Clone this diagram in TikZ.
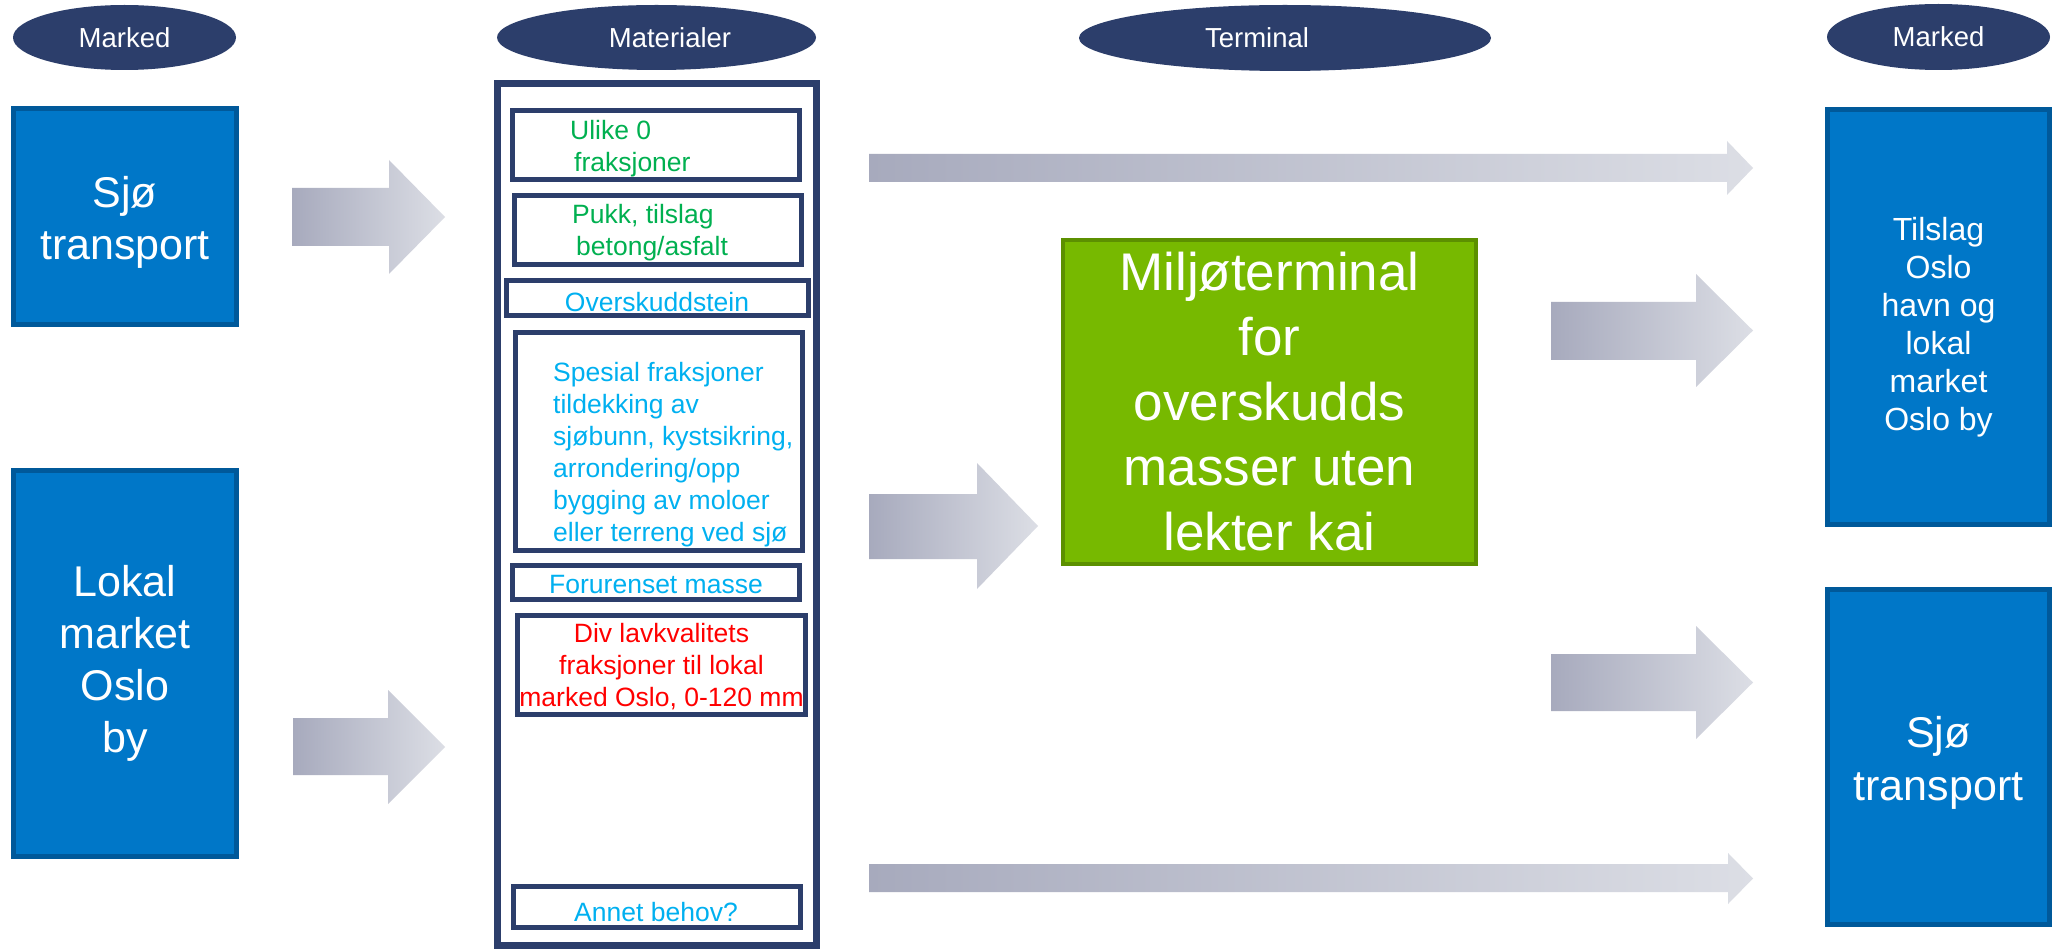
\documentclass[tikz,border=0pt]{standalone}
\usepackage{fontspec}
\setmainfont{Liberation Sans}
\usetikzlibrary{shapes.geometric}
\definecolor{navy}{HTML}{2C3E6B}
\definecolor{bluefill}{HTML}{0077C8}
\definecolor{blueedge}{HTML}{00599A}
\definecolor{greenfill}{HTML}{77B900}
\definecolor{greenedge}{HTML}{5C9000}
\definecolor{txtgreen}{HTML}{00B050}
\definecolor{txtblue}{HTML}{00B0F0}
\definecolor{txtred}{HTML}{FF0000}
\definecolor{arrdark}{HTML}{A7AABD}
\definecolor{arrlight}{HTML}{DCDEE5}
\tikzset{
  header/.style={ellipse, fill=navy, draw=none, text=white, inner sep=0pt,
    font=\fontsize{27.5}{33}\selectfont},
  bluebox/.style={rectangle, fill=bluefill, draw=blueedge, line width=5pt, inner sep=0pt},
  bluetext/.style={text=white, inner sep=0pt, align=center},
  matbox/.style={rectangle, draw=navy, line width=5pt, fill=white, inner sep=0pt},
  mattext/.style={inner sep=0pt, font=\fontsize{26.5}{32}\selectfont},
  greenbox/.style={rectangle, fill=greenfill, draw=greenedge, line width=4pt, inner sep=0pt,
    text=white, align=center, font=\fontsize{53}{65}\selectfont},
  blockarrow/.style={left color=arrdark, right color=arrlight, draw=none}
}
\newcommand\myblockarrow[7]{%
  \shade[blockarrow] (#1,#3) -- (#2,#3) -- (#2,#6) -- (#5,{(#6+#7)/2}) -- (#2,#7) -- (#2,#4) -- (#1,#4) -- cycle;}
\begin{document}
\begin{tikzpicture}[x=1pt,y=-1pt]
\useasboundingbox[fill=white] (0,0) rectangle (2054,949);

% headers
\node[header, minimum width=223pt, minimum height=65pt] (hmarkedL) at (124.5,37.5) {Marked};
\node[header, minimum width=319pt, minimum height=65pt] (hmat) at (656.5,37.5) {\hspace*{27pt}Materialer};
\node[header, minimum width=412pt, minimum height=66pt] (hterm) at (1285,38) {Terminal\hspace*{56pt}};
\node[header, minimum width=223pt, minimum height=66pt] (hmarkedR) at (1938.5,37) {Marked};

% left market boxes
\node[bluebox, minimum width=223pt, minimum height=216pt] (sjoL) at (125,217) {};
\node[bluetext, font=\fontsize{43}{52}\selectfont] (sjoLtxt) at (125,222) {Sjø\\transport};
\node[bluebox, minimum width=223pt, minimum height=386pt] (lokal) at (125,663.5) {};
\node[bluetext, font=\fontsize{43}{52}\selectfont] (lokaltxt) at (125,663.5) {Lokal\\market\\Oslo\\by};

% right market boxes
\node[bluebox, minimum width=222pt, minimum height=415pt] (tilslag) at (1938.5,317) {};
\node[bluetext, font=\fontsize{32}{38}\selectfont] (tilslagtxt) at (1938.5,327) {Tilslag\\Oslo\\havn og\\lokal\\market\\Oslo by};
\node[bluebox, minimum width=222pt, minimum height=335pt] (sjoR) at (1938.5,757) {};
\node[bluetext, font=\fontsize{43}{53}\selectfont] (sjoRtxt) at (1938.5,763) {Sjø\\transport};

% terminal
\node[greenbox, minimum width=413pt, minimum height=324pt] (term) at (1269.5,402) {Miljøterminal\\for\\overskudds\\masser uten\\lekter kai};

% materials frame
\node[matbox, line width=7pt, minimum width=319pt, minimum height=862pt] (matframe) at (657,514.5) {};

\node[matbox, minimum width=287pt, minimum height=69pt] (ulike) at (656,145) {};
\node[mattext, text=txtgreen, anchor=west, align=left] (ulikettxt) at (570,148.5) {Ulike 0\\\hspace*{4pt}fraksjoner};

\node[matbox, minimum width=287pt, minimum height=69pt] (pukk) at (658,230) {};
\node[mattext, text=txtgreen, anchor=west, align=left] (pukktxt) at (572,233) {Pukk, tilslag\\\hspace*{4pt}betong/asfalt};

\node[matbox, minimum width=302pt, minimum height=35pt, text=txtblue, font=\fontsize{26.5}{32}\selectfont] (oversk) at (657.5,298) {};
\node[mattext, text=txtblue] (overskt) at (657,302) {Overskuddstein};

\node[matbox, minimum width=287pt, minimum height=218pt] (spesial) at (659,441.5) {};
\node[mattext, text=txtblue, anchor=west, align=left] (spesialtxt) at (553,455) {Spesial fraksjoner\\tildekking av\\sjøbunn, kystsikring,\\arrondering/opp\\bygging av moloer\\eller terreng ved sjø};

\node[matbox, minimum width=287pt, minimum height=34pt] (forur) at (656,582.5) {};
\node[mattext, text=txtblue] (forurtxt) at (656,585) {Forurenset masse};

\node[matbox, minimum width=288pt, minimum height=99pt] (div) at (661.5,665) {};
\node[mattext, text=txtred, align=center] (divtxt) at (661.5,667) {Div lavkvalitets\\fraksjoner til lokal\\marked Oslo, 0-120 mm};

\node[matbox, minimum width=287pt, minimum height=41pt] (annet) at (657,907) {};
\node[mattext, text=txtblue] (annettxt) at (656,912) {Annet behov?};

% block arrows: body x0,x1, body y0,y1, tip x, head y0,y1
\myblockarrow{292}{389}{188}{246}{445}{160}{274}
\myblockarrow{293}{388}{718}{775}{445}{690}{804}
\myblockarrow{869}{1727}{154}{182}{1753}{141}{195}
\myblockarrow{869}{977}{494}{559}{1038}{463}{589}
\myblockarrow{1551}{1696}{302}{360}{1753}{274}{387}
\myblockarrow{1551}{1696}{654}{711}{1753}{626}{739}
\myblockarrow{869}{1728}{864}{892}{1753}{853}{904}
\end{tikzpicture}
\end{document}
